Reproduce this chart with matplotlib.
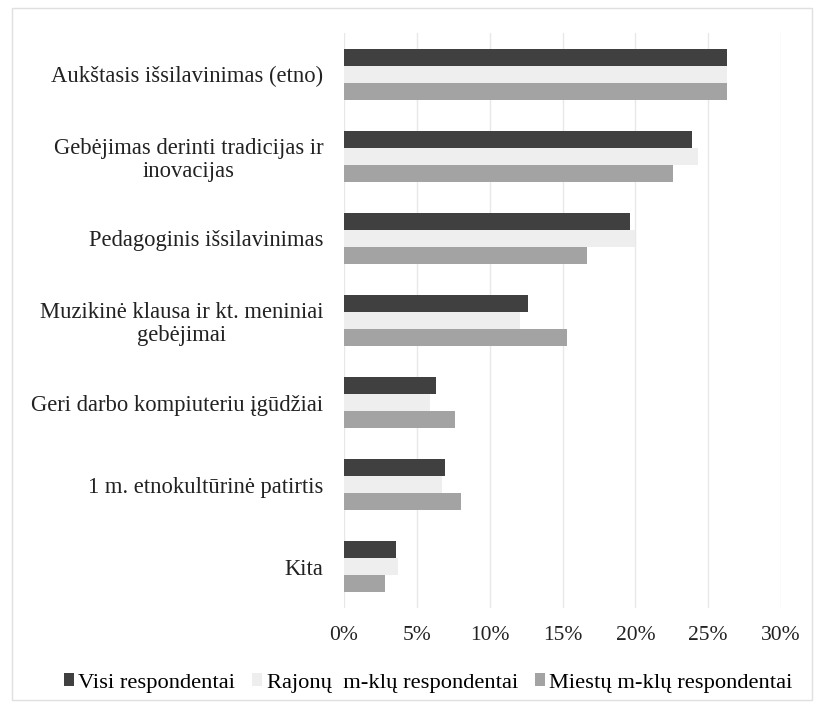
import matplotlib.pyplot as plt
import numpy as np
from matplotlib.patches import Rectangle
from matplotlib.ticker import PercentFormatter

categories = [
    "Aukštasis išsilavinimas (etno)",
    "Gebėjimas derinti tradicijas ir\ninovacijas",
    "Pedagoginis išsilavinimas",
    "Muzikinė klausa ir kt. meniniai\ngebėjimai",
    "Geri darbo kompiuteriu įgūdžiai",
    "1 m. etnokultūrinė patirtis",
    "Kita",
]
series_names = ["Visi respondentai", "Rajonų  m-klų respondentai", "Miestų m-klų respondentai"]
visi = [26.3, 23.9, 19.6, 12.6, 6.3, 6.9, 3.6]
rajonu = [26.3, 24.3, 20.0, 12.1, 5.9, 6.7, 3.7]
miestu = [26.3, 22.6, 16.7, 15.3, 7.6, 8.0, 2.8]
colors = ["#404040", "#eeeeee", "#a3a3a3"]

plt.rcParams['font.family'] = ['Liberation Serif', 'DejaVu Serif']

fig = plt.figure(figsize=(8.25, 7.05), dpi=100)
ax = fig.add_axes([344 / 825, 1 - 608 / 705, 437 / 825, 575 / 705])

y = np.arange(len(categories))
h = 0.207
for i, vals in enumerate([visi, rajonu, miestu]):
    ax.barh(y + (i - 1) * h, vals, height=h, color=colors[i], label=series_names[i], zorder=2)

ax.set_xlim(0, 30)
ax.set_ylim(len(categories) - 0.5, -0.5)
ax.set_xticks(range(0, 31, 5))
ax.xaxis.set_major_formatter(PercentFormatter(decimals=0))
ax.set_yticks(y)
ax.set_yticklabels(categories, ha='right', multialignment='center', linespacing=1.12)
ax.tick_params(axis='both', length=0, colors='#222222')
ax.tick_params(axis='x', pad=13, labelsize=15.5)
ax.tick_params(axis='y', pad=15, labelsize=16.3)
ax.grid(axis='x', color='#e8e8e8', linewidth=1, zorder=0)
for s in ax.spines.values():
    s.set_visible(False)

handles, labels = ax.get_legend_handles_labels()
fig.legend(handles, labels, loc='center', bbox_to_anchor=(0.519, 1 - 683 / 705), ncol=3,
           frameon=False, fontsize=16.2, handlelength=0.45, handleheight=0.45,
           handletextpad=0.2, columnspacing=0.75)

fig.patches.append(Rectangle((12 / 825, 1 - 700 / 705), 800 / 825, 692 / 705,
                             transform=fig.transFigure, fill=False, edgecolor='#e0e0e0', linewidth=1))

plt.savefig("out.png", dpi=100)
